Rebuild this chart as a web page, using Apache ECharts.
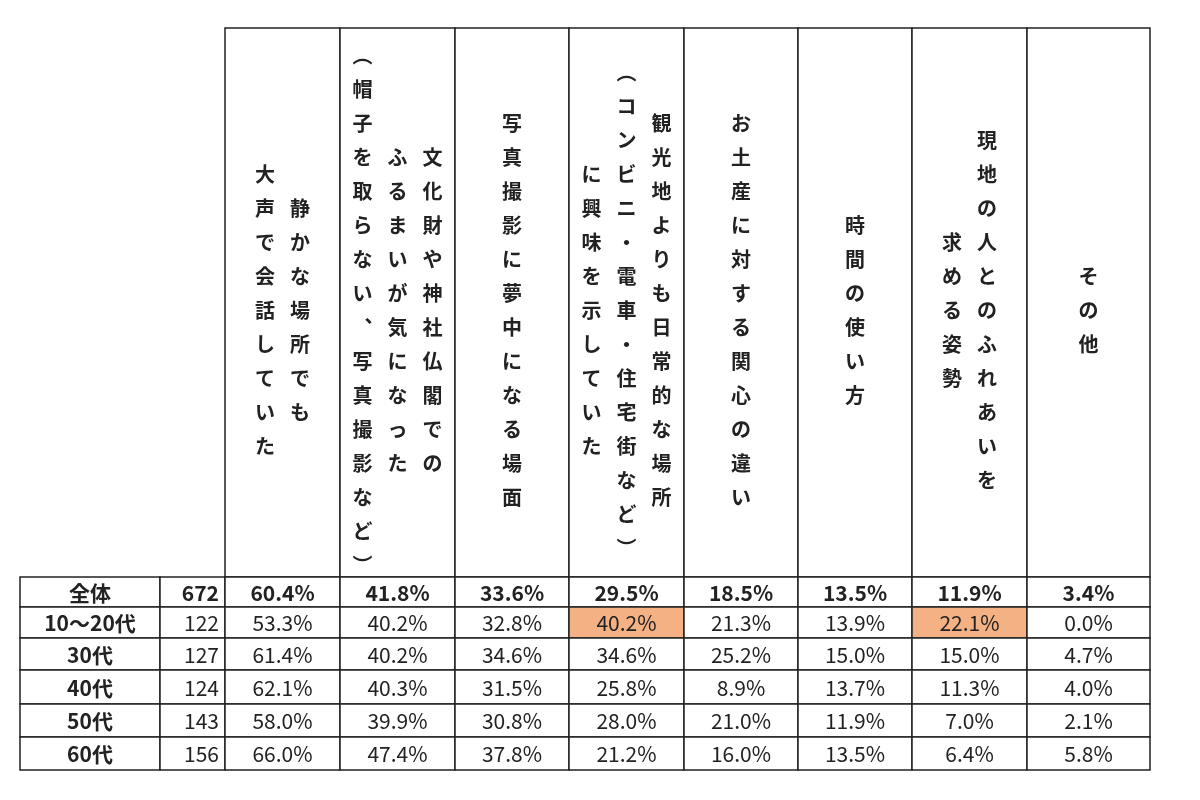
<!DOCTYPE html>
<html>
<head>
<meta charset="utf-8">
<script src="https://cdn.jsdelivr.net/npm/echarts@6/dist/echarts.min.js"></script>
<style>
  html, body { margin: 0; padding: 0; background: #fff; }
  #main { width: 1200px; height: 800px; }
</style>
</head>
<body>
<div id="main"></div>
<script>
// データ
const headers = [
  ['静かな場所でも', '大声で会話していた'],
  ['文化財や神社仏閣での', 'ふるまいが気になった', '︵帽子を取らない︑写真撮影など︶'],
  ['写真撮影に夢中になる場面'],
  ['観光地よりも日常的な場所', '︵コンビニ・電車・住宅街など︶', 'に興味を示していた'],
  ['お土産に対する関心の違い'],
  ['時間の使い方'],
  ['現地の人とのふれあいを', '求める姿勢'],
  ['その他']
];
const groups = ['全体', '10～20代', '30代', '40代', '50代', '60代'];
const counts = [672, 122, 127, 124, 143, 156];
const values = [
  [60.4, 41.8, 33.6, 29.5, 18.5, 13.5, 11.9, 3.4],
  [53.3, 40.2, 32.8, 40.2, 21.3, 13.9, 22.1, 0.0],
  [61.4, 40.2, 34.6, 34.6, 25.2, 15.0, 15.0, 4.7],
  [62.1, 40.3, 31.5, 25.8, 8.9, 13.7, 11.3, 4.0],
  [58.0, 39.9, 30.8, 28.0, 21.0, 11.9, 7.0, 2.1],
  [66.0, 47.4, 37.8, 21.2, 16.0, 13.5, 6.4, 5.8]
];
// 強調セル [行, 列]
const highlights = [[1, 3], [1, 6]];

// レイアウト（軸単位）
const xEdges = [0, 140, 205, 320, 435, 549, 664, 778, 892, 1007, 1130];
const yEdges = [0, 549, 579, 610, 642, 676, 709, 742];
const FONT = '"Noto Sans CJK JP", sans-serif';

const cells = [];
for (let c = 2; c < 10; c++) cells.push([c, 0]);
for (let r = 0; r < groups.length; r++)
  for (let c = 0; c < 10; c++) cells.push([c, r + 1]);

function cellText(c, r) {
  if (c === 0) return groups[r];
  if (c === 1) return String(counts[r]);
  return values[r][c - 2].toFixed(1) + '%';
}

function renderItem(params, api) {
  const c = api.value(0), r = api.value(1);
  const p0 = api.coord([xEdges[c], yEdges[r]]);
  const p1 = api.coord([xEdges[c + 1], yEdges[r + 1]]);
  const x = p0[0], y = p0[1], w = p1[0] - p0[0], h = p1[1] - p0[1];
  const cx = x + w / 2, cy = y + h / 2;
  const children = [];
  if (r === 0) {
    children.push({ type: 'rect', shape: { x, y, width: w, height: h },
      style: { fill: '#fff', stroke: '#222', lineWidth: 1.5 } });
    const lines = headers[c - 2];
    const n = lines.length;
    lines.forEach((ln, i) => {
      children.push({ type: 'text', x: cx + ((n - 1) / 2 - i) * 35, y: cy + 8,
        style: { text: ln.split('').join('\n'), font: 'bold 20px ' + FONT,
          lineHeight: 34, fill: '#222', align: 'center', verticalAlign: 'middle' } });
    });
  } else {
    const row = r - 1;
    const hl = highlights.some(h2 => h2[0] === row && h2[1] === c - 2);
    children.push({ type: 'rect', shape: { x, y, width: w, height: h },
      style: { fill: hl ? '#f4b183' : '#fff', stroke: '#222', lineWidth: 1.5 } });
    const bold = row === 0 || c === 0;
    children.push({ type: 'text', x: c === 1 ? x + w - 6 : cx, y: cy + 1,
      style: { text: cellText(c, row), font: (bold ? 'bold ' : '') + '21px ' + FONT,
        fill: '#222', align: c === 1 ? 'right' : 'center', verticalAlign: 'middle' } });
  }
  return { type: 'group', children };
}

const chart = echarts.init(document.getElementById('main'));
chart.setOption({
  animation: false,
  grid: { left: 20, top: 28, width: 1130, height: 742 },
  xAxis: { type: 'value', min: 0, max: 1130, show: false },
  yAxis: { type: 'value', min: 0, max: 742, inverse: true, show: false },
  series: [{ type: 'custom', renderItem, data: cells, encode: { x: 0, y: 1 } }]
});
</script>
</body>
</html>
